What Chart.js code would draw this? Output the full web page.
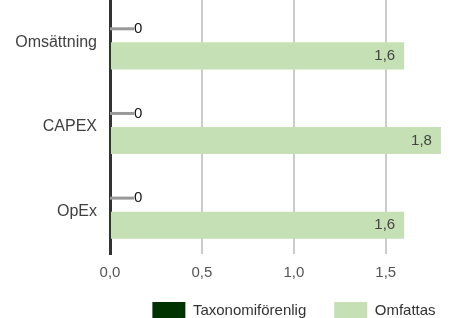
<!DOCTYPE html>
<html>
<head>
<meta charset="utf-8">
<script src="https://cdn.jsdelivr.net/npm/chart.js@4"></script>
<style>
  html, body { margin: 0; padding: 0; background: #fff; overflow: hidden; }
  #wrap { width: 588px; height: 330px; }
</style>
</head>
<body>
<div id="wrap"><canvas id="chart" width="588" height="330"></canvas></div>
<script>
const categories = ['Omsättning', 'CAPEX', 'OpEx'];
const taxonomiforenlig = [0, 0, 0];
const omfattas = [1.6, 1.8, 1.6];
const xTicks = [0, 0.5, 1.0, 1.5];

const font = '"Liberation Sans", Arial, sans-serif';

function fmt(v) {
    return v.toFixed(1).replace('.', ',');
}

// value labels: zero values get a short leader line, others sit inside the bar end
// also writes the x tick labels (the axis box is kept short so the legend sits close)
const valueLabels = {
    id: 'valueLabels',
    afterDatasetsDraw(chart) {
        const ctx = chart.ctx;
        ctx.save();
        ctx.font = '15px ' + font;
        ctx.textBaseline = 'middle';
        chart.data.datasets.forEach((ds, i) => {
            chart.getDatasetMeta(i).data.forEach((bar, j) => {
                const v = ds.data[j];
                if (v === 0) {
                    ctx.strokeStyle = '#999';
                    ctx.lineWidth = 3;
                    ctx.beginPath();
                    ctx.moveTo(bar.x, bar.y);
                    ctx.lineTo(bar.x + 24, bar.y);
                    ctx.stroke();
                    ctx.fillStyle = '#111';
                    ctx.textAlign = 'left';
                    ctx.fillText('0', bar.x + 24, bar.y);
                } else {
                    ctx.fillStyle = '#444';
                    ctx.textAlign = 'right';
                    ctx.fillText(fmt(v), bar.x - 9, bar.y);
                }
            });
        });

        const xs = chart.scales.x;
        ctx.fillStyle = '#555';
        ctx.textAlign = 'center';
        xTicks.forEach(v => {
            ctx.fillText(fmt(v), xs.getPixelForValue(v), chart.chartArea.bottom + 19);
        });
        ctx.restore();
    }
};

new Chart(document.getElementById('chart'), {
    type: 'bar',
    data: {
        labels: categories,
        datasets: [{
            label: 'Taxonomiförenlig',
            data: taxonomiforenlig,
            backgroundColor: '#003300'
        }, {
            label: 'Omfattas',
            data: omfattas,
            backgroundColor: '#c5e0b4'
        }]
    },
    options: {
        indexAxis: 'y',
        responsive: false,
        animation: false,
        categoryPercentage: 0.64,
        barPercentage: 1.0,
        layout: { padding: 0 },
        scales: {
            x: {
                min: 0,
                max: 2.6,
                afterBuildTicks: scale => {
                    scale.ticks = xTicks.map(v => ({ value: v }));
                },
                afterFit: scale => {
                    scale.height = 20;
                    scale.paddingLeft = 0;
                    scale.paddingRight = 0;
                },
                grid: {
                    drawTicks: false,
                    lineWidth: 2,
                    color: c => c.tick && c.tick.value === 0 ? 'rgba(0,0,0,0)' : '#cccccc'
                },
                border: { display: false },
                ticks: { display: false }
            },
            y: {
                afterFit: scale => {
                    scale.width = 110;
                    scale.paddingTop = 0;
                    scale.paddingBottom = 0;
                },
                grid: { display: false, drawTicks: false },
                border: { display: true, color: '#333', width: 3 },
                ticks: {
                    padding: 13,
                    color: '#404040',
                    font: { family: font, size: 16 }
                }
            }
        },
        plugins: {
            legend: {
                position: 'bottom',
                labels: {
                    boxWidth: 33,
                    boxHeight: 18,
                    padding: 28,
                    color: '#333',
                    font: { family: font, size: 15 }
                }
            },
            tooltip: { enabled: false }
        }
    },
    plugins: [valueLabels]
});
</script>
</body>
</html>
